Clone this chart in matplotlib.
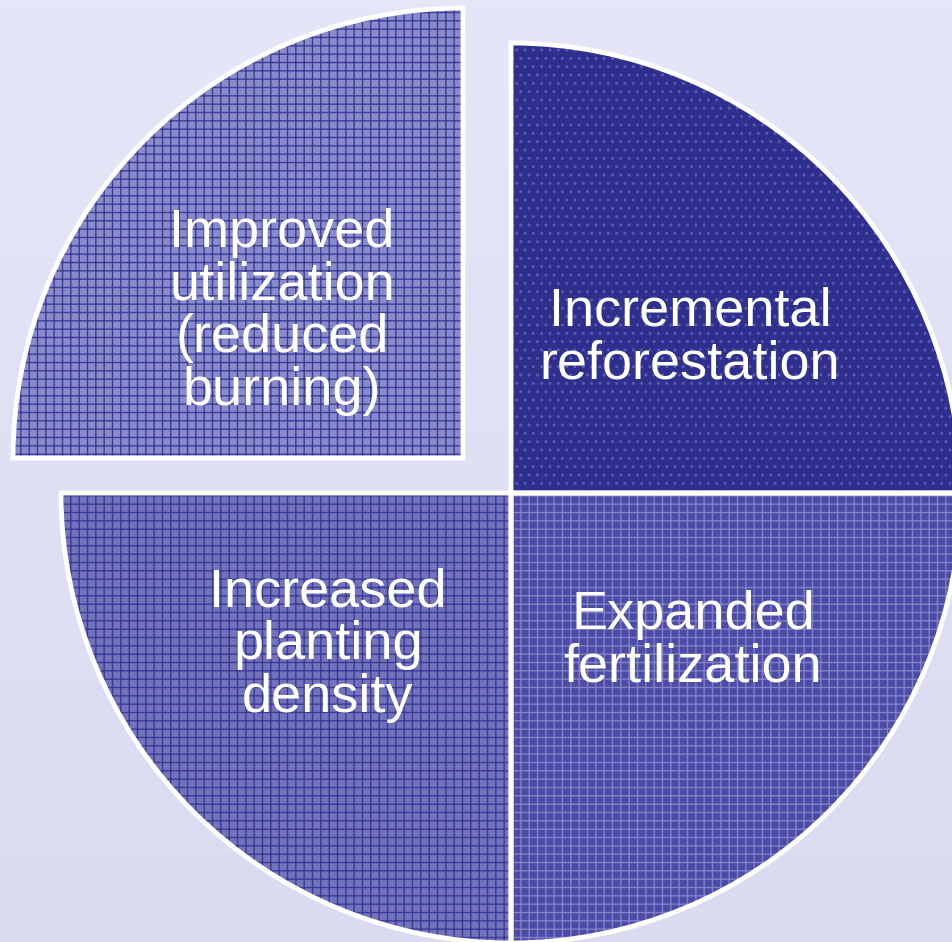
import numpy as np
import matplotlib
matplotlib.use("Agg")
import matplotlib.pyplot as plt

# four equal quarters, clockwise from the top-left
labels = [
    "Improved\nutilization\n(reduced\nburning)",
    "Incremental\nreforestation",
    "Expanded\nfertilization",
    "Increased\nplanting\ndensity",
]
shares = [1, 1, 1, 1]
face_colors = ["#8a8bcb", "#2f2f8d", "#4c4ca7", "#7373bc"]
hatch_colors = ["#3c3c97", "#5a5ab4", "#8181c8", "#3a3a97"]
hatches = ["++", "..", "++", "++"]

W, H = 952, 942
CX, CY, R = 511, H - 493, 450
TL_SHIFT = (-48, 35)  # the top-left quarter sits apart from the rest

fig = plt.figure(figsize=(W / 100, H / 100), dpi=100)
ax = fig.add_axes([0, 0, 1, 1])

# soft lavender background, lighter at the top
grad = np.linspace(0, 1, 256)[:, None] * np.ones((1, 16))
bg = matplotlib.colors.LinearSegmentedColormap.from_list("bg", ["#e5e6f7", "#dadbf1"])
ax.imshow(grad, cmap=bg, extent=(0, W, 0, H), aspect="auto", zorder=0)

fill, _ = ax.pie(
    shares, startangle=180, counterclock=False, radius=R, center=(CX, CY),
    colors=face_colors, wedgeprops=dict(linewidth=0), frame=True,
)
outline, _ = ax.pie(
    shares, startangle=180, counterclock=False, radius=R, center=(CX, CY),
    wedgeprops=dict(fill=False, edgecolor="white", linewidth=3.5), frame=True,
)
plt.rcParams["hatch.linewidth"] = 0.9
for w, hc, ht in zip(fill, hatch_colors, hatches):
    w.set_hatch(ht)
    w.set_edgecolor(hc)
    w.set_zorder(1)
for w in outline:
    w.set_zorder(2)
fill[0].set_center((CX + TL_SHIFT[0], CY + TL_SHIFT[1]))
outline[0].set_center((CX + TL_SHIFT[0], CY + TL_SHIFT[1]))

ax.set_xlim(0, W)
ax.set_ylim(0, H)
ax.set_aspect("equal")
ax.axis("off")

text_pos = [(282, 312), (690, 338), (693, 641), (328, 645)]
for lab, (tx, ty) in zip(labels, text_pos):
    ax.text(tx, H - ty, lab, ha="center", va="center", multialignment="center",
            color="white", fontsize=39, family="Liberation Sans", linespacing=1.07,
            zorder=3)

fig.savefig("out.png", dpi=100)
